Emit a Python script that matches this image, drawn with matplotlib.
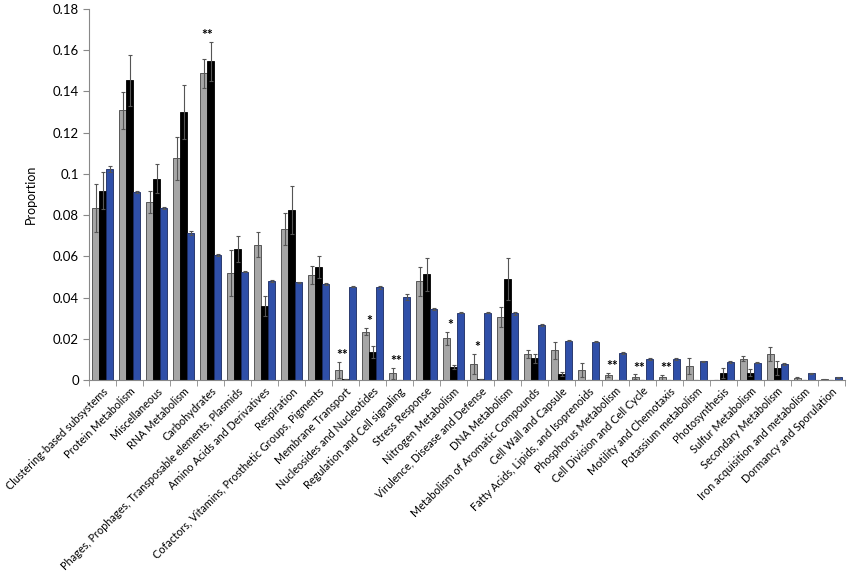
import numpy as np
import matplotlib.pyplot as plt
from matplotlib.ticker import FixedLocator, FuncFormatter

categories = [
    "Clustering-based subsystems", "Protein Metabolism", "Miscellaneous",
    "RNA Metabolism", "Carbohydrates",
    "Phages, Prophages, Transposable elements, Plasmids",
    "Amino Acids and Derivatives", "Respiration",
    "Cofactors, Vitamins, Prosthetic Groups, Pigments", "Membrane Transport",
    "Nucleosides and Nucleotides", "Regulation and Cell signaling",
    "Stress Response", "Nitrogen Metabolism", "Virulence, Disease and Defense",
    "DNA Metabolism", "Metabolism of Aromatic Compounds",
    "Cell Wall and Capsule", "Fatty Acids, Lipids, and Isoprenoids",
    "Phosphorus Metabolism", "Cell Division and Cell Cycle",
    "Motility and Chemotaxis", "Potassium metabolism", "Photosynthesis",
    "Sulfur Metabolism", "Secondary Metabolism",
    "Iron acquisition and metabolism", "Dormancy and Sporulation",
]

gray_vals = [0.0834, 0.1307, 0.0862, 0.1075, 0.1487, 0.0518, 0.0656, 0.0732,
             0.0510, 0.0049, 0.0235, 0.0032, 0.0478, 0.0202, 0.0078, 0.0304,
             0.0126, 0.0144, 0.0049, 0.0026, 0.0015, 0.0013, 0.0068, 0.0,
             0.0104, 0.0126, 0.0008, 0.0003]
gray_err = [0.0117, 0.0090, 0.0053, 0.0105, 0.0070, 0.0110, 0.0060, 0.0076,
            0.0044, 0.0040, 0.0016, 0.0028, 0.0070, 0.0033, 0.0048, 0.0049,
            0.0020, 0.0042, 0.0035, 0.0010, 0.0012, 0.0011, 0.0037, 0.0,
            0.0011, 0.0032, 0.0007, 0.0002]

black_vals = [0.0918, 0.1453, 0.0977, 0.1299, 0.1545, 0.0635, 0.0360, 0.0823,
              0.0547, 0.0003, 0.0136, 0.0002, 0.0512, 0.0063, 0.0005, 0.0492,
              0.0105, 0.0031, 0.0002, 0.0002, 0.0001, 0.0001, 0.0002, 0.0034,
              0.0036, 0.0058, 0.0002, 0.0002]
black_err = [0.0089, 0.0124, 0.0071, 0.0129, 0.0094, 0.0061, 0.0048, 0.0116,
             0.0052, 0.0, 0.0031, 0.0, 0.0079, 0.0010, 0.0, 0.0102,
             0.0021, 0.0009, 0.0, 0.0, 0.0, 0.0, 0.0, 0.0024,
             0.0017, 0.0032, 0.0, 0.0]

blue_vals = [0.1023, 0.0910, 0.0834, 0.0714, 0.0606, 0.0525, 0.0481, 0.0473,
             0.0466, 0.0453, 0.0449, 0.0402, 0.0343, 0.0327, 0.0327, 0.0324,
             0.0267, 0.0191, 0.0186, 0.0133, 0.0102, 0.0102, 0.0090, 0.0087,
             0.0084, 0.0076, 0.0032, 0.0013]
blue_err = [0.0015, 0.0004, 0.0004, 0.0010, 0.0003, 0.0003, 0.0005, 0.0004,
            0.0004, 0.0003, 0.0006, 0.0015, 0.0004, 0.0004, 0.0003, 0.0008,
            0.0003, 0.0003, 0.0003, 0.0005, 0.0003, 0.0004, 0.0003, 0.0003,
            0.0003, 0.0005, 0.0002, 0.0002]

signif = {4: "**", 9: "**", 10: "*", 11: "**", 13: "*", 14: "*",
          19: "**", 20: "**", 21: "**"}

plt.rcParams['font.family'] = ['Lato', 'DejaVu Sans']

x = np.arange(len(categories))
w = 0.26

fig = plt.figure(figsize=(8.5, 5.82), dpi=100)
ax = fig.add_axes([0.105, 0.347, 0.889, 0.638])

ekw = dict(ecolor='#555555', elinewidth=0.8, capsize=1.5, capthick=0.8)
ax.bar(x - w, gray_vals, w, color='#a6a6a6', edgecolor='#444444', linewidth=0.6,
       yerr=gray_err, error_kw=ekw, zorder=2)
ax.bar(x, black_vals, w, color='#000000', edgecolor='#000000', linewidth=0.6,
       yerr=black_err, error_kw=ekw, zorder=2)
ax.bar(x + w, blue_vals, w, color='#2f4fa8', edgecolor='#1a2a60', linewidth=0.6,
       yerr=blue_err, error_kw=ekw, zorder=2)

for i, s in signif.items():
    top = max(gray_vals[i] + gray_err[i], black_vals[i] + black_err[i])
    ax.text(x[i] - w * 0.5, top + 0.0004, s, ha='center', va='bottom',
            fontsize=10, fontweight='bold')

ax.set_xlim(-0.5, len(categories) - 0.5)
ax.set_ylim(0, 0.18)
ax.set_yticks(np.arange(0, 0.181, 0.02))
ax.yaxis.set_major_formatter(FuncFormatter(lambda v, p: f"{v:.2f}".rstrip('0').rstrip('.') if v else "0"))
ax.set_xticks(x)
ax.set_xticklabels(categories, rotation=45, ha='right', va='top',
                   rotation_mode='anchor', fontsize=7.8)
ax.tick_params(axis='x', which='major', length=0, pad=4)
ax.xaxis.set_minor_locator(FixedLocator(np.arange(-0.5, len(categories), 1.0)))
ax.tick_params(axis='x', which='minor', length=4, color='#888888', direction='out')
ax.tick_params(axis='y', labelsize=9.5, length=4, color='#888888')

for side in ['top', 'right']:
    ax.spines[side].set_visible(False)
for side in ['left', 'bottom']:
    ax.spines[side].set_color('#888888')
    ax.spines[side].set_linewidth(0.8)

ax.set_ylabel("Proportion", fontsize=9, labelpad=11)

fig.savefig("out.png", dpi=100)
